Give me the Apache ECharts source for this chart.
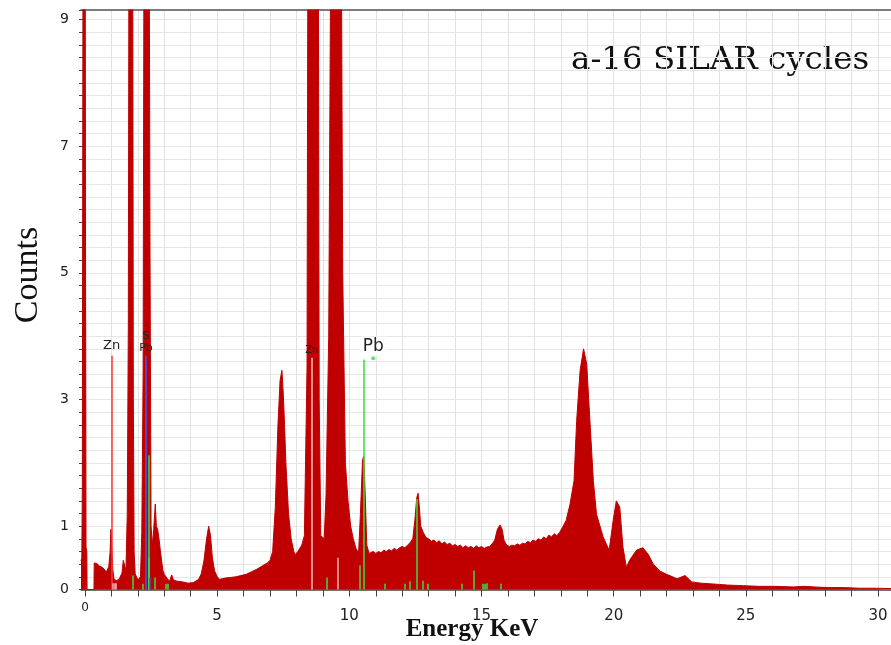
<!DOCTYPE html>
<html>
<head>
<meta charset="utf-8">
<script src="https://cdn.jsdelivr.net/npm/echarts@6/dist/echarts.min.js"></script>
<style>
html,body{margin:0;padding:0;background:#fff;}
#chart{width:891px;height:645px;}
</style>
</head>
<body>
<div id="chart"></div>
<script>
// ---- spectrum (energy in keV, counts) ----
const energy = [
 -0.15,-0.12,-0.10,-0.08,-0.06,-0.02,0.00,0.02,0.04,0.07,0.08,0.34,
 0.35,0.40,0.45,0.50,0.55,0.60,0.65,0.70,0.75,0.80,0.85,0.90,0.95,0.98,
 1.02,1.05,1.10,1.20,1.30,1.40,1.45,1.50,1.55,1.60,1.64,1.67,1.80,1.83,1.86,1.90,
 2.00,2.10,2.15,2.20,2.24,2.42,2.46,2.50,2.55,2.60,2.66,2.70,2.75,2.80,2.85,2.90,2.95,
 3.00,3.10,3.20,3.28,3.35,3.50,3.70,3.90,4.10,4.30,4.40,4.50,4.60,4.68,4.75,4.82,4.90,
 5.00,5.10,5.30,5.50,5.70,5.90,6.10,6.30,6.50,6.70,6.90,7.00,7.10,7.20,7.30,7.38,7.45,
 7.50,7.55,7.60,7.70,7.80,7.90,7.95,8.05,8.20,8.30,8.40,8.44,8.82,8.86,8.92,9.05,9.12,
 9.22,9.32,9.68,9.75,9.85,9.95,10.05,10.15,10.25,10.35,10.42,10.50,10.55,10.60,10.66,10.75,
 10.80,10.90,11.00,11.10,11.20,11.30,11.40,11.50,11.60,11.70,11.80,11.90,12.00,12.10,12.20,
 12.30,12.40,12.48,12.55,12.60,12.65,12.70,12.80,12.90,13.00,13.10,13.20,13.30,13.40,13.50,
 13.60,13.70,13.80,13.90,14.00,14.10,14.20,14.30,14.40,14.50,14.60,14.70,14.80,14.90,15.00,
 15.10,15.20,15.30,15.40,15.50,15.60,15.70,15.78,15.85,15.95,16.05,16.15,16.25,16.35,16.45,
 16.55,16.65,16.75,16.85,16.95,17.05,17.15,17.25,17.35,17.45,17.55,17.65,17.75,17.85,17.95,
 18.05,18.20,18.35,18.50,18.60,18.73,18.86,18.98,19.10,19.23,19.35,19.60,19.83,19.98,20.10,
 20.23,20.35,20.48,20.60,20.86,21.10,21.30,21.50,21.75,22.00,22.40,22.70,22.95,23.30,23.65,
 24.00,24.30,24.90,25.50,26.10,26.80,27.20,27.60,28.10,28.70,29.30,29.90,30.49
];
const counts = [
 0.45,0.5,1.6,8.3,14,14,9.1,5.7,0.67,0.6,0,0,
 0.42,0.45,0.41,0.38,0.37,0.39,0.35,0.34,0.31,0.27,0.29,0.36,0.58,0.95,
 0.62,0.33,0.16,0.14,0.17,0.26,0.46,0.49,0.3,1.2,4.2,12,12,3,0.6,0.25,
 0.15,0.2,0.9,3.4,12,12,5.4,1.0,0.7,0.95,1.35,1.0,0.95,0.8,0.62,0.45,0.3,
 0.24,0.18,0.13,0.23,0.15,0.13,0.12,0.1,0.11,0.16,0.25,0.45,0.8,1.0,0.85,0.5,0.3,
 0.2,0.16,0.18,0.19,0.2,0.22,0.24,0.28,0.32,0.37,0.42,0.46,0.6,1.3,2.6,3.3,3.46,
 3.1,2.6,2.0,1.2,0.8,0.6,0.55,0.6,0.7,0.85,3.5,12,12,3,0.85,0.8,1.5,
 4,12,12,5,2,1.4,1.0,0.8,0.65,0.58,1.2,2.05,2.1,1.5,0.7,0.57,
 0.55,0.6,0.57,0.6,0.58,0.62,0.6,0.63,0.61,0.65,0.62,0.66,0.68,0.66,0.7,
 0.74,0.8,1.1,1.45,1.52,1.3,1.0,0.9,0.82,0.8,0.76,0.78,0.74,0.77,0.72,
 0.75,0.71,0.73,0.69,0.71,0.68,0.7,0.66,0.69,0.66,0.68,0.65,0.69,0.66,0.68,
 0.65,0.67,0.68,0.72,0.78,0.95,1.02,0.95,0.78,0.7,0.68,0.7,0.69,0.72,0.7,
 0.73,0.72,0.76,0.74,0.78,0.76,0.8,0.78,0.83,0.8,0.86,0.83,0.88,0.85,0.9,
 0.97,1.09,1.35,1.72,2.67,3.46,3.8,3.56,2.67,1.72,1.19,0.83,0.62,1.09,1.4,
 1.3,0.67,0.35,0.46,0.62,0.66,0.56,0.4,0.29,0.24,0.17,0.22,0.12,0.1,0.09,
 0.08,0.07,0.06,0.05,0.05,0.04,0.05,0.04,0.03,0.03,0.02,0.02,0.015
];

// ---- element marker lines ----
const markerEnergy = [1.01,1.05,1.12,1.18,1.80,2.17,2.31,2.40,2.42,2.44,2.65,3.06,3.15,
  8.58,9.14,9.55,10.40,10.53,11.33,12.11,12.27,12.55,12.78,12.97,14.25,14.72,15.05,15.13,15.20,15.74];
const markerHeight = [3.69,0.1,0.1,0.1,0.22,0.09,3.69,0.51,2.12,0.19,0.19,0.09,0.09,
  3.66,0.19,0.5,0.38,3.63,0.09,0.09,0.13,1.43,0.14,0.09,0.09,0.3,0.09,0.09,0.1,0.09];
const markerKind = ['Zn','pink','pink','pink','g','g','S','g','g','p','g','g','g',
  'ZnK','g','pink','g','Pb','g','g','g','g','g','g','g','g','g','g','g','g'];
const markerLabel = {Zn:'Zn', S:'S\nPb', ZnK:'Zn', Pb:'Pb'};
const dotPoint = [[10.9, 3.65]];

const xMinorTicks = [];
for (let k = 0; k <= 30; k++) xMinorTicks.push(k);
const xTickLabels = [0,5,10,15,20,25,30];
const yTickLabels = [0,1,3,5,7,9];

const kindColor = {Zn:'#ff3333', pink:'#f7b2b2', g:'#3ddc3d', S:'#3a5cff', p:'#7b3fa8', ZnK:'#f4c0c0', Pb:'#3ddc3d'};

const spectrum = energy.map((e,i)=>[e, counts[i]]);

const mlData = markerEnergy.map((e,i)=>{
  const k = markerKind[i];
  const start = {coord:[e,0], lineStyle:{color:kindColor[k], width:1.5, type:'solid'}};
  if (markerLabel[k]) {
    let lab = {show:true, position:'end', color:'#222', fontFamily:'DejaVu Sans', formatter: markerLabel[k]};
    if (k==='Zn') { lab.fontSize = 13; lab.distance = 4; }
    if (k==='S') { lab.fontSize = 11; lab.lineHeight = 12; lab.distance = 2; }
    if (k==='ZnK') { lab.fontSize = 10; lab.distance = 2; }
    if (k==='Pb') { lab.fontSize = 17; lab.distance = 4; lab.offset = [10,0]; lab.backgroundColor='rgba(255,255,255,0.85)'; lab.padding=[1,3]; }
    start.label = lab;
  } else {
    start.label = {show:false};
  }
  return [start, {coord:[e, markerHeight[i]]}];
});

const isInt = v => Math.abs(v - Math.round(v)) < 1e-6;

const chart = echarts.init(document.getElementById('chart'), null, {renderer:'canvas'});
chart.setOption({
  animation:false,
  backgroundColor:'#fff',
  graphic:[{
    type:'text', left:571, top:44,
    style:{text:'a-16 SILAR cycles', fontSize:32.5, fontFamily:'DejaVu Serif', fill:'#111'}
  },{
    type:'text', x:28, y:275, rotation:Math.PI/2,
    style:{text:'Counts', fontSize:34, fontFamily:'Liberation Serif', fill:'#111', align:'center', verticalAlign:'middle'}
  },{
    type:'text', x:472, y:630,
    style:{text:'Energy KeV', fontSize:25, fontWeight:'bold', fontFamily:'Liberation Serif', fill:'#111', align:'center', verticalAlign:'middle'}
  }],
  grid:{left:81, right:0, top:10, bottom:55.5, containLabel:false, outerBoundsMode:'none'},
  xAxis:[{
    type:'value', min:-0.15, max:30.49,
    axisLine:{show:true, onZero:false, lineStyle:{color:'#444', width:1.5}},
    axisTick:{show:true, length:7, lineStyle:{color:'#444'}, customValues:xMinorTicks},
    axisLabel:{
      margin:12, color:'#222', fontFamily:'DejaVu Sans',
      customValues:xTickLabels,
      formatter:function(v){
        const r = Math.round(v);
        return r===0 ? '{s|0}' : '{b|'+r+'}';
      },
      rich:{s:{fontSize:12, fontFamily:'DejaVu Sans', color:'#222'}, b:{fontSize:15, fontFamily:'DejaVu Sans', color:'#222', padding:[7,0,0,0]}}
    },
    splitLine:{show:true, lineStyle:{color:'#e2e2e2', width:1}, customValues:xMinorTicks}
  },{
    type:'value', position:'top', min:-0.15, max:30.49,
    axisLine:{show:true, onZero:false, lineStyle:{color:'#555', width:1.5}},
    axisTick:{show:false}, axisLabel:{show:false}, splitLine:{show:false}
  }],
  yAxis:{
    type:'value', min:0, max:9.15, interval:0.2,
    axisLine:{show:true, lineStyle:{color:'#444', width:1.5}},
    axisTick:{show:true, length:6, lineStyle:{color:'#444'}},
    axisLabel:{
      margin:12, fontSize:14, color:'#222', fontFamily:'DejaVu Sans',
      formatter:function(v){
        if (!isInt(v)) return '';
        const r = Math.round(v);
        return yTickLabels.indexOf(r) >= 0 ? String(r) : '';
      }
    },
    splitLine:{show:true, lineStyle:{color:'#e6e6e6', width:1}}
  },
  series:[{
    type:'line', data:spectrum, xAxisIndex:0, showSymbol:false, symbol:'none',
    sampling:null, clip:true,
    lineStyle:{color:'#c00000', width:1},
    areaStyle:{color:'#c00000', opacity:1},
    z:2,
    markLine:{
      silent:true, symbol:['none','none'], precision:4,
      data:mlData, z:5
    }
  },{
    type:'scatter', data:dotPoint, symbolSize:4, itemStyle:{color:'#3ddc3d'}, z:6
  }]
});
</script>
</body>
</html>
